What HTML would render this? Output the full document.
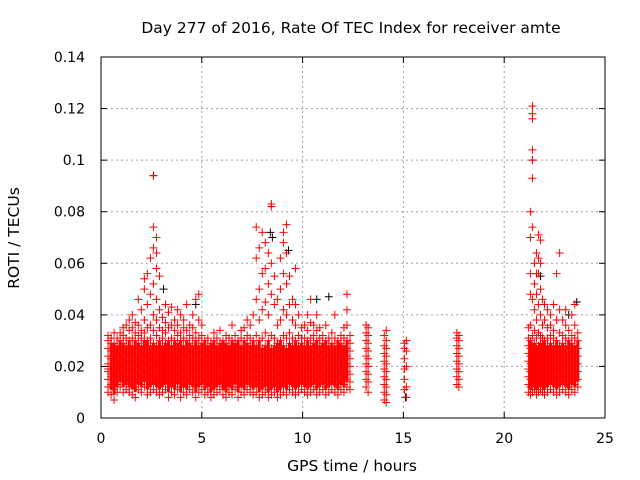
<!DOCTYPE html>
<html><head><meta charset="utf-8"><style>
html,body{margin:0;padding:0;background:#fff;}
svg{display:block;font-family:"DejaVu Sans","Liberation Sans",sans-serif;}
</style></head><body>
<svg id="chart" width="640" height="480" viewBox="0 0 640 480" xmlns="http://www.w3.org/2000/svg">
<rect x="0" y="0" width="640" height="480" fill="#fff"/>
<text x="351" y="33" font-size="15.5" text-anchor="middle" fill="#000">Day 277 of 2016, Rate Of TEC Index for receiver amte</text>
<g id="grid"></g>
<g id="ticks"></g>
<g id="marks"></g>
<rect x="101" y="57" width="504" height="361" fill="none" stroke="#000" stroke-width="1"/>
<text x="0" y="0" transform="translate(19,238) rotate(-90)" font-size="15.5" text-anchor="middle">ROTI / TECUs</text>
<text x="352" y="471" font-size="15.5" text-anchor="middle">GPS time / hours</text>
</svg>
<script>
const xTicks=[0,5,10,15,20,25];
const yTicks=[0,0.02,0.04,0.06,0.08,0.1,0.12,0.14];
const yTickLabels=["0","0.02","0.04","0.06","0.08","0.1","0.12","0.14"];
// GPS hours for each observation column, and ROTI values (in 1e-3 TECU/min) at that column
const gpsHours=[0.35,0.5,0.65,0.8,0.95,1.1,1.25,1.4,1.55,1.7,1.85,2.0,2.15,2.3,2.45,2.6,2.75,2.9,3.05,3.2,3.35,3.5,3.65,3.8,3.95,4.1,4.25,4.4,4.55,4.7,4.85,5.0,5.15,5.3,5.45,5.6,5.75,5.9,6.05,6.2,6.35,6.5,6.65,6.8,6.95,7.1,7.25,7.4,7.55,7.7,7.85,8.0,8.15,8.3,8.45,8.6,8.75,8.9,9.05,9.2,9.35,9.5,9.65,9.8,9.95,10.1,10.25,10.4,10.55,10.7,10.85,11.0,11.15,11.3,11.45,11.6,11.75,11.9,12.05,12.2,12.35,13.15,13.25,14.05,14.15,15.05,15.15,17.65,17.75,21.2,21.3,21.4,21.5,21.6,21.7,21.8,21.9,22.0,22.15,22.3,22.45,22.6,22.75,22.9,23.05,23.2,23.35,23.5,23.65,23.75];
const rotiMilli=[
[12,15,18,21,24,27,30,32,10,19],
[9,13,16,20,23,26,29,31,17],
[11,14,17,20,23,26,29,33,7],
[10,13,16,19,22,25,28,31,24],
[12,15,18,21,24,27,30,33,20],
[10,14,17,20,23,26,29,32,35],
[11,13,16,19,22,25,28,31,36],
[10,12,15,18,21,24,27,30,34,38],
[9,13,16,19,22,25,28,31,35,40],
[8,12,15,18,21,24,27,30,33,37],
[11,14,17,20,23,26,29,32,36,46],
[10,13,16,19,22,25,28,31,34,42],
[12,15,18,21,24,27,30,33,38,50,54],
[9,12,15,18,21,24,27,30,35,44,56],
[10,13,16,19,22,25,28,31,36,48,62],
[11,14,17,20,23,26,29,34,40,52,66,74,94],
[10,13,16,19,22,25,28,32,38,46,58,64,70],
[9,12,15,18,21,24,27,30,35,42,55],
[10,13,16,19,22,25,28,31,34,39],
[11,14,17,20,23,26,29,33,37,44],
[8,12,15,18,21,24,27,30,35,41],
[10,13,16,19,22,25,28,31,36,43],
[9,12,15,18,21,24,27,30,34,38],
[11,14,17,20,23,26,29,32,36,42],
[8,12,15,18,21,24,27,30,33,40],
[10,13,16,19,22,25,28,31,35,38],
[9,12,15,18,21,24,27,30,34,44],
[11,14,17,20,23,26,29,32,36],
[10,13,16,19,22,25,28,31,35,40],
[8,12,15,18,21,24,27,30,33,46],
[10,13,16,19,22,25,28,31,38,48],
[11,14,17,20,23,26,29,32,36],
[9,12,15,18,21,24,27,30],
[10,13,16,19,22,25,28,31],
[8,11,14,17,20,23,26,29],
[9,12,15,18,21,24,27,30,33],
[10,13,16,19,22,25,28,31],
[11,14,17,20,23,26,29,34],
[9,12,15,18,21,24,27,30],
[8,11,14,17,20,23,26,29,32],
[10,13,16,19,22,25,28,31],
[9,12,15,18,21,24,27,30,36],
[11,14,17,20,23,26,29,32],
[8,12,15,18,21,24,27,30],
[10,13,16,19,22,25,28,31,34],
[9,12,15,18,21,24,27,30,35],
[11,14,17,20,23,26,29,32,38],
[10,13,16,19,22,25,28,31,36],
[9,12,15,18,21,24,27,30,40],
[10,13,16,19,22,25,28,32,46,62,74],
[8,12,15,18,21,24,27,30,38,50,66],
[9,12,15,18,21,24,27,31,42,56,72],
[10,13,16,19,22,25,28,33,45,58,68],
[8,11,14,17,20,23,26,30,40,52,64],
[9,12,15,18,21,24,27,32,48,60,82,83],
[10,13,16,19,22,25,28,31,44,55],
[8,11,14,17,20,23,26,29,36,46],
[9,12,15,18,21,24,27,30,38,50,62],
[10,13,16,19,22,25,28,32,42,56,68,72],
[9,12,15,18,21,24,27,31,40,52,64,75],
[11,14,17,20,23,26,29,33,44,55],
[10,13,16,19,22,25,28,31,38,46],
[9,12,15,18,21,24,27,30,36,44,58],
[10,13,16,19,22,25,28,32,40],
[11,14,17,20,23,26,29,31,35],
[10,13,16,19,22,25,28,31,36],
[9,12,15,18,21,24,27,30,34,40],
[10,13,16,19,22,25,28,31,37,46],
[11,14,17,20,23,26,29,32,36],
[9,12,15,18,21,24,27,30,34,40],
[10,13,16,19,22,25,28,31,35],
[11,14,17,20,23,26,29,32],
[9,12,15,18,21,24,27,30,36],
[10,13,16,19,22,25,28,31],
[11,14,17,20,23,26,29,33],
[10,13,16,19,22,25,28,31,40],
[9,12,15,18,21,24,27,30],
[11,14,17,20,23,26,29,32],
[10,13,16,19,22,25,28,31,35],
[12,15,18,21,24,27,30,36,42,48],
[11,14,17,20,23,26,29,32],
[12,15,18,21,24,27,30,33,36],
[10,14,17,20,23,26,29,32,35],
[7,10,13,16,19,22,25,28,32],
[6,9,12,15,18,21,24,27,30,34],
[11,15,19,23,27,29],
[8,12,20,26,30],
[13,16,19,22,25,28,31,33],
[12,15,18,21,24,27,30,32],
[10,13,16,19,22,25,28,31,35],
[9,12,15,18,21,24,27,30,36,48,56,70,80],
[10,13,16,19,22,25,28,32,46,74,93,100,104,116,118,121],
[11,14,17,20,23,26,29,34,42,52,60],
[9,12,15,18,21,24,27,31,38,48,56,64],
[10,13,16,19,22,25,28,33,44,56,62,71],
[11,14,17,20,23,26,29,32,40,50,60,69],
[10,13,16,19,22,25,28,31,36,46],
[9,12,15,18,21,24,27,30,38,44],
[10,13,16,19,22,25,28,31,35,42],
[11,14,17,20,23,26,29,32,36,40],
[10,13,16,19,22,25,28,31,34,44],
[9,12,15,18,21,24,27,30,38,56],
[10,13,16,19,22,25,28,33,42,64],
[11,14,17,20,23,26,29,32,38],
[10,13,16,19,22,25,28,31,36,42],
[9,12,15,18,21,24,27,30,34],
[11,14,17,20,23,26,29,32,40],
[10,13,16,19,22,25,28,31,36,44],
[12,15,18,21,24,27,30,33]
];
// secondary (black) series, mostly hidden behind red
const blackHours=[2.6,3.1,4.7,8.4,8.5,9.3,10.7,11.3,15.1,21.4,21.8,23.2,23.6];
const blackMilli=[94,50,44,72,70,65,46,47,8,100,55,40,45];

const X0=101,X1=605,Y0=418,Y1=57;
const xScale=h=>X0+(h/25)*(X1-X0);
const yScale=v=>Y0-(v/0.14)*(Y0-Y1);
const NS="http://www.w3.org/2000/svg";
const grid=document.getElementById('grid'),ticks=document.getElementById('ticks'),marks=document.getElementById('marks');
function mk(tag,attrs,parent){const e=document.createElementNS(NS,tag);for(const k in attrs)e.setAttribute(k,attrs[k]);parent.appendChild(e);return e;}
xTicks.forEach(t=>{
  const x=xScale(t);
  if(t>0&&t<25){const g=mk('line',{x1:x,y1:Y0,x2:x,y2:Y1,stroke:'#a0a0a0','stroke-dasharray':'2,3'},grid);
  
  }
  mk('line',{x1:x,y1:Y0,x2:x,y2:Y0-6,stroke:'#000'},ticks);
  mk('line',{x1:x,y1:Y1,x2:x,y2:Y1+6,stroke:'#000'},ticks);
  const l=mk('text',{x:x,y:Y0+25,'font-size':14,'text-anchor':'middle'},ticks);
  l.textContent=String(t);
  
  
});
yTicks.forEach((t,i)=>{
  const y=yScale(t);
  if(i>0&&i<yTicks.length-1){const g=mk('line',{x1:X0,y1:y,x2:X1,y2:y,stroke:'#a0a0a0','stroke-dasharray':'2,3'},grid);
  
  }
  mk('line',{x1:X0,y1:y,x2:X0+6,y2:y,stroke:'#000'},ticks);
  mk('line',{x1:X1,y1:y,x2:X1-6,y2:y,stroke:'#000'},ticks);
  const l=mk('text',{x:X0-16,y:y+5,'font-size':14,'text-anchor':'end'},ticks);
  l.textContent=yTickLabels[i];
  
  
});
function plus(h,v,color,name){
  const x=xScale(h),y=yScale(v);
  const p=mk('path',{d:`M${x-4},${y}h8M${x},${y-4}v8`,stroke:color,'stroke-width':1,fill:'none'},marks);
  
  
}
blackHours.forEach((h,i)=>plus(h,blackMilli[i]/1000,'#000','black-point'));
gpsHours.forEach((h,i)=>{
  const vals=rotiMilli[i]||[];
  const hasPrev=i>0&&Math.abs(gpsHours[i-1]-h)<0.2;
  const hasNext=i<gpsHours.length-1&&Math.abs(gpsHours[i+1]-h)<0.2;
  const core=vals.filter(v=>v<=30);
  if(hasPrev&&hasNext&&core.length>2){
    const lo=Math.min(...core)/1000+0.002,hi=Math.max(...core)/1000;
    const r=mk('rect',{x:xScale(h)-1.5,y:yScale(hi),width:3,height:yScale(lo)-yScale(hi),fill:'#ff0000'},marks);
    
    
  }
  vals.forEach(v=>plus(h,v/1000,'#ff0000','roti-point'));
});
</script>
</body></html>
